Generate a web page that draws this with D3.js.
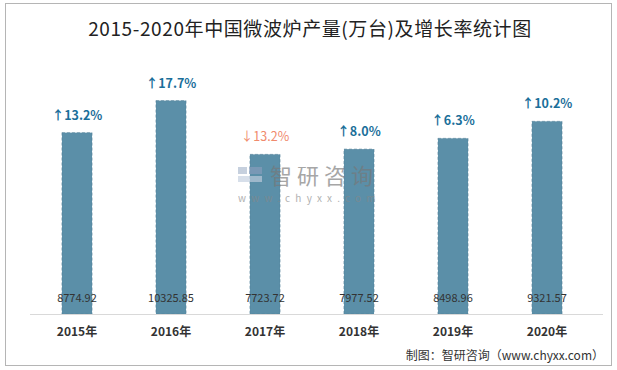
<!DOCTYPE html>
<meta charset="utf-8">
<script src="https://d3js.org/d3.v7.min.js"></script>
<style>
  body { margin: 0; background: #fff; }
  svg { display: block; font-family: "Noto Sans CJK SC", "Noto Sans", sans-serif; }
</style>
<svg id="chart" width="617" height="370"></svg>
<script>
// data
var years = ["2015年", "2016年", "2017年", "2018年", "2019年", "2020年"];
var output = [8774.92, 10325.85, 7723.72, 7977.52, 8498.96, 9321.57];
var growth = [13.2, 17.7, -13.2, 8.0, 6.3, 10.2];

var svg = d3.select("#chart");
var margin = {left: 30, right: 23, top: 66, bottom: 56};
var W = 617, H = 370;

// outer frame
svg.append("rect")
  .attr("x", 5.5).attr("y", 3.5)
  .attr("width", 606).attr("height", 362)
  .attr("fill", "#fff").attr("stroke", "#b5b5b5");

// title
svg.append("text")
  .attr("x", 310).attr("y", 36)
  .attr("text-anchor", "middle")
  .style("font-size", "19px")
  .style("letter-spacing", "0.6px")
  .attr("fill", "#222")
  .text("2015-2020年中国微波炉产量(万台)及增长率统计图");

var x = d3.scaleBand()
  .domain(years)
  .range([margin.left, W - margin.right])
  .paddingInner(0.68).paddingOuter(0.34);

var y = d3.scaleLinear()
  .domain([0, 12000])
  .range([H - margin.bottom, margin.top]);

var data = years.map(function(d, i) { return {year: d, value: output[i], g: growth[i]}; });

// bars
svg.append("g").selectAll("rect")
  .data(data).enter().append("rect")
    .attr("x", function(d) { return x(d.year); })
    .attr("y", function(d) { return y(d.value); })
    .attr("width", x.bandwidth())
    .attr("height", function(d) { return y(0) - y(d.value); })
    .attr("fill", "#5b8fa8")
    .attr("stroke", "#527f97")
    .attr("stroke-dasharray", "3,2")
    .attr("stroke-width", 0.6);

// watermark
var wm = svg.append("g").attr("opacity", 0.65);
wm.append("rect").attr("x", 238).attr("y", 167).attr("width", 9).attr("height", 7).attr("fill", "#a9b8cd");
wm.append("rect").attr("x", 249).attr("y", 167).attr("width", 13).attr("height", 7).attr("fill", "#8a9ebd");
wm.append("rect").attr("x", 238).attr("y", 176).attr("width", 24).attr("height", 6).attr("fill", "#c3cfdf");
wm.append("text")
  .attr("x", 270).attr("y", 184)
  .style("font-size", "22px")
  .style("letter-spacing", "5px")
  .attr("fill", "#777")
  .text("智研咨询");
wm.append("text")
  .attr("x", 238).attr("y", 202)
  .style("font-size", "10px")
  .style("letter-spacing", "5.2px")
  .attr("fill", "#888")
  .text("www.chyxx.com");

// value labels inside bars
svg.append("g").selectAll("text")
  .data(data).enter().append("text")
    .attr("x", function(d) { return x(d.year) + x.bandwidth() / 2; })
    .attr("y", y(0) - 12)
    .attr("text-anchor", "middle")
    .style("font-size", "11px")
    .attr("fill", "#333")
    .text(function(d) { return d3.format(".2f")(d.value); });

// growth labels
svg.append("g").selectAll("text")
  .data(data).enter().append("text")
    .attr("x", function(d) { return x(d.year) + x.bandwidth() / 2; })
    .attr("y", function(d) { return y(d.value) - 13; })
    .attr("text-anchor", "middle")
    .style("font-size", "12.5px")
    .style("font-weight", function(d) { return d.g < 0 ? "normal" : "bold"; })
    .attr("fill", function(d) { return d.g < 0 ? "#f08a6c" : "#1b6f9a"; })
    .text(function(d) { return (d.g < 0 ? "↓" : "↑") + d3.format(".1f")(Math.abs(d.g)) + "%"; });

// x axis
var xAxis = svg.append("g")
  .attr("transform", "translate(0," + y(0) + ")")
  .call(d3.axisBottom(x).tickSize(0).tickPadding(13));
xAxis.select(".domain").attr("stroke", "#d9d9d9").attr("d", "M" + margin.left + ",0.5H" + (W - 14));
xAxis.selectAll("text")
  .style("font-size", "12px")
  .style("font-weight", "bold")
  .style("font-family", "'Noto Sans CJK SC', sans-serif")
  .attr("fill", "#333");

// source
svg.append("text")
  .attr("x", 604).attr("y", 360)
  .attr("text-anchor", "end")
  .style("font-size", "12px")
  .attr("fill", "#333")
  .text("制图：智研咨询（www.chyxx.com）");
</script>
